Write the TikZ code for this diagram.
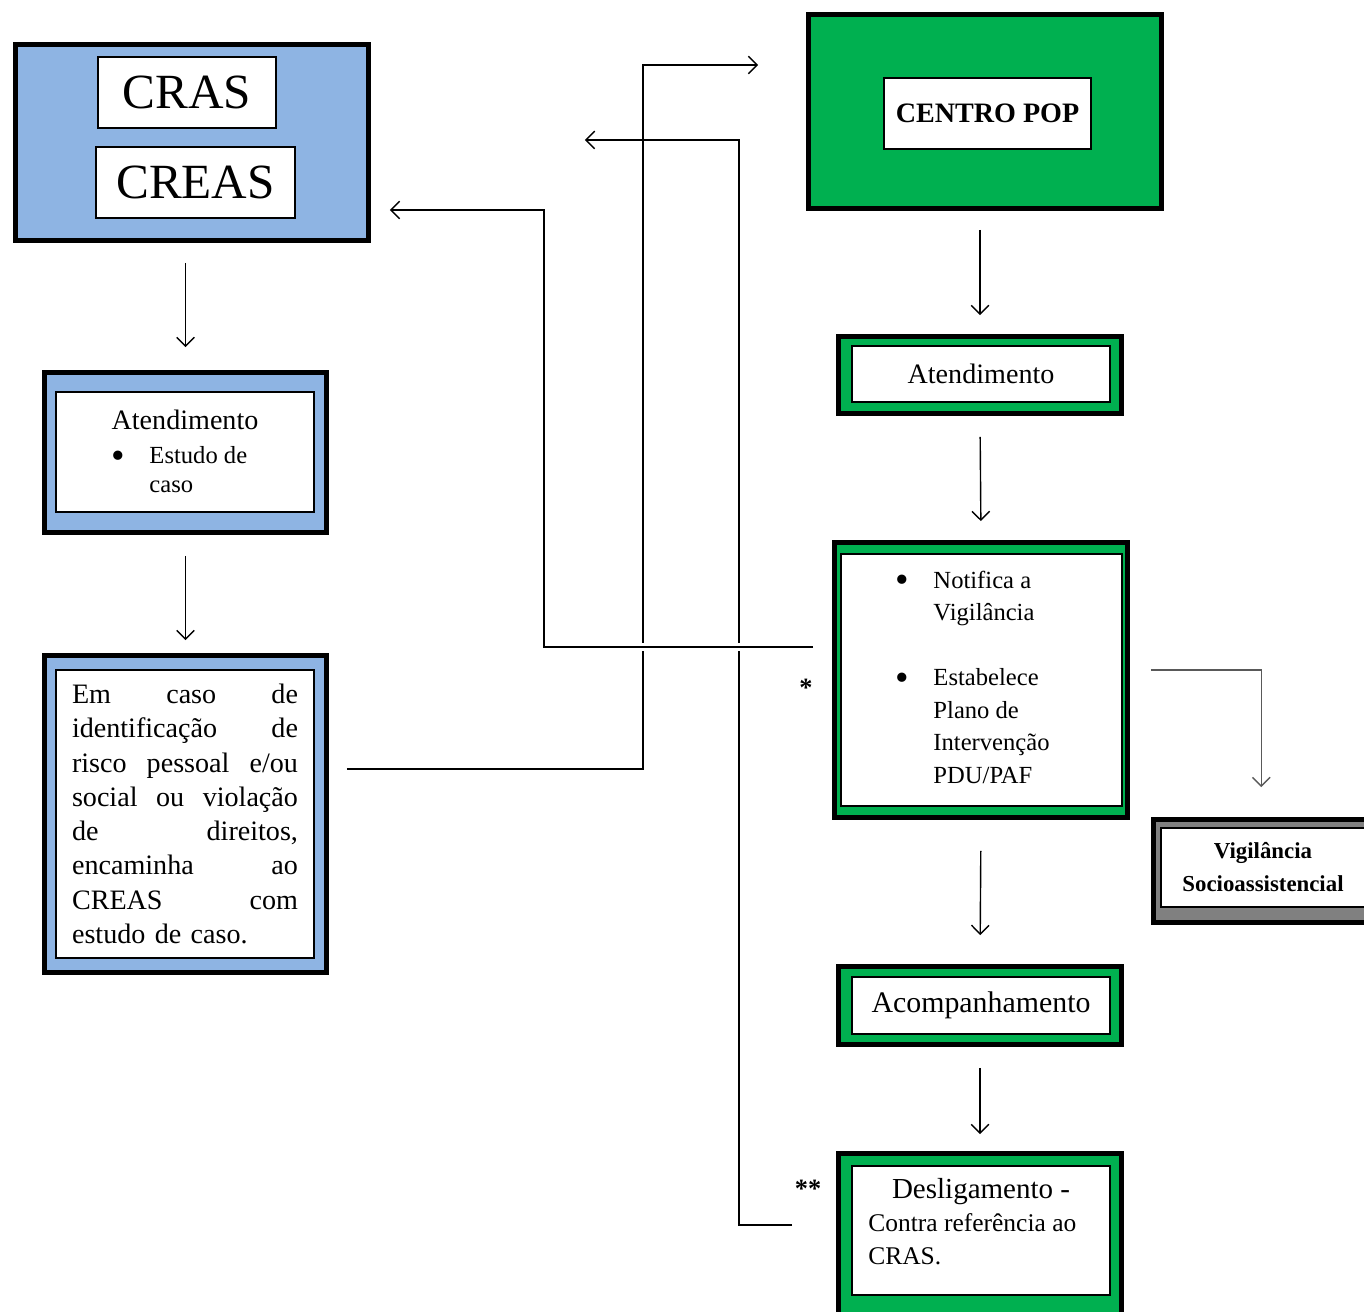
\documentclass[tikz,border=0pt]{standalone}
\usepackage{fontspec}
\setmainfont{Liberation Serif}
\usepackage{xcolor}
\usepackage{tikz}
\usetikzlibrary{arrows.meta, positioning, calc}
\definecolor{crasBlue}{RGB}{142,180,227}
\definecolor{popGreen}{RGB}{0,176,80}
\definecolor{vigGray}{RGB}{128,128,128}
\newcommand{\bigbullet}{\raisebox{-2.6pt}{\fontsize{22}{16}\selectfont\textbullet}}

\begin{document}
\begin{tikzpicture}[x=0.02cm, y=-0.02cm,
  outerbox/.style={rectangle, draw=black, line width=2.8pt, inner sep=0pt},
  innerbox/.style={rectangle, draw=black, line width=0.9pt, fill=white, inner sep=0pt},
  arrow/.style={-{Straight Barb[length=5pt,width=10pt]}, line width=0.8pt},
  bigtxt/.style={font=\fontsize{28}{32}\selectfont},
  midtxt/.style={font=\fontsize{16}{19.5}\selectfont},
  listtxt/.style={inner sep=0pt, anchor=north west}
]
\useasboundingbox (0,0) rectangle (1364,1311);

% CRAS / CREAS
\node[outerbox, fill=crasBlue, minimum width=7.06cm, minimum height=3.92cm] (crasbg) at (192,142.5) {};
\node[innerbox, bigtxt, minimum width=3.56cm, minimum height=1.42cm] (crasin) at (187,92.5) {CRAS};
\node[innerbox, bigtxt, minimum width=3.98cm, minimum height=1.42cm] (creasin) at (195.5,182.5) {CREAS};

% Atendimento (CRAS)
\node[outerbox, fill=crasBlue, minimum width=5.64cm, minimum height=3.2cm] (atend1bg) at (185.5,452.5) {};
\node[innerbox, minimum width=5.16cm, minimum height=2.4cm] (atend1in) at (185,452) {};
\node[midtxt] (atend1tit) at (185,420) {Atendimento};
\node[listtxt, font=\fontsize{14}{16.5}\selectfont] (atend1list) at (111,443) {%
  \begin{tabular}{@{}l@{\hspace{14pt}}l@{}}
  \bigbullet & Estudo de\\
   & caso
  \end{tabular}};

% Encaminhamento ao CREAS
\node[outerbox, fill=crasBlue, minimum width=5.64cm, minimum height=6.34cm] (emcasobg) at (185.5,814) {};
\node[innerbox, minimum width=5.16cm, minimum height=5.76cm, text width=4.52cm, align=left,
      font=\fontsize{16}{19.5}\selectfont\setlength{\parindent}{0pt}] (emcasoin) at (185,814) {%
  Em\hfill caso\hfill de\\
  identificação\hfill de\\
  risco\hfill pessoal\hfill e/ou\\
  social\hfill ou\hfill violação\\
  de\hfill direitos,\\
  encaminha\hfill ao\\
  CREAS\hfill com\\
  estudo de caso.};

% CENTRO POP
\node[outerbox, fill=popGreen, minimum width=7.06cm, minimum height=3.88cm] (popbg) at (985,111.5) {};
\node[innerbox, font=\fontsize{16}{19}\selectfont\bfseries, minimum width=4.14cm, minimum height=1.42cm] (popin) at (987.5,113.5) {CENTRO POP};

% Atendimento (Centro POP)
\node[outerbox, fill=popGreen, minimum width=5.66cm, minimum height=1.54cm] (atend2bg) at (980,375) {};
\node[innerbox, midtxt, minimum width=5.16cm, minimum height=1.12cm] (atend2in) at (981,374) {Atendimento};

% Notifica / Plano
\node[outerbox, fill=popGreen, minimum width=5.86cm, minimum height=5.5cm] (notifbg) at (981,680) {};
\node[innerbox, minimum width=5.62cm, minimum height=5.04cm] (notifin) at (981.5,680) {};
\node[listtxt, font=\fontsize{14}{18.5}\selectfont] (notiflist) at (895,565) {%
  \begin{tabular}{@{}l@{\hspace{14pt}}l@{}}
  \bigbullet & Notifica a\\
   & Vigilância\\
   & \\
  \bigbullet & Estabelece\\
   & Plano de\\
   & Intervenção\\
   & PDU/PAF
  \end{tabular}};
\node[font=\fontsize{15}{16}\selectfont\bfseries] (star1) at (806,688) {*};

% Vigilancia Socioassistencial
\node[outerbox, fill=vigGray, minimum width=4.63cm, minimum height=2.06cm] (vigilbg) at (1269.25,871) {};
\node[innerbox, minimum width=4.48cm, minimum height=1.58cm] (vigilin) at (1273,867.5) {};
\node[align=center, font=\fontsize{13}{19}\selectfont\bfseries] (vigiltxt) at (1263,867) {Vigilância\\Socioassistencial};

% Acompanhamento
\node[outerbox, fill=popGreen, minimum width=5.66cm, minimum height=1.56cm] (acompbg) at (980,1005.5) {};
\node[innerbox, font=\fontsize{17}{20}\selectfont, minimum width=5.16cm, minimum height=1.14cm] (acompin) at (981,1005.5) {Acompanhamento};

% Desligamento
\node[outerbox, fill=popGreen, minimum width=5.66cm, minimum height=3.43cm] (deslbg) at (980,1239.25) {};
\node[innerbox, minimum width=5.16cm, minimum height=2.58cm] (deslin) at (981,1230.5) {};
\node[font=\fontsize{16.5}{19}\selectfont] (desltit) at (981,1192) {Desligamento -};
\node[listtxt, align=left, font=\fontsize{14.5}{18.7}\selectfont] (desltxt) at (868,1213) {Contra referência ao\\CRAS.};
\node[font=\fontsize{15}{16}\selectfont\bfseries] (star2) at (808,1189) {**};

% vertical flow
\draw[arrow, shorten <=0.4cm, shorten >=0.46cm] (atend1bg.north |- crasbg.south) -- (atend1bg.north);
\draw[arrow, shorten <=0.42cm, shorten >=0.26cm] (atend1bg.south) -- (emcasobg.north);
\draw[arrow, shorten <=0.38cm, shorten >=0.38cm] (atend2bg.north |- popbg.south) -- (atend2bg.north);
\draw[arrow, shorten <=0.42cm, shorten >=0.38cm] (atend2bg.south) -- (notifbg.north);
\draw[arrow, shorten <=0.62cm, shorten >=0.58cm] (notifbg.south) -- (acompbg.north);
\draw[arrow, shorten <=0.42cm, shorten >=0.34cm] (acompbg.south) -- (deslbg.north);

% cross links
\draw[arrow] ($(emcasobg.east)+(18,-45)$) -- ++(296,0) |- ($(popbg.west)+(-48,-46.5)$);
\draw[arrow] ($(deslbg.west)+(-44,-14.25)$) -- ++(-53,0) |- ($(crasbg.east)+(214,-2.5)$);
\draw[arrow, preaction={draw=white, line width=4.5pt, -}] ($(notifbg.west)+(-19,-33)$) -- ++(-269,0) |- ($(crasbg.east)+(19,67.5)$);
\draw[arrow, draw=black!65] ($(notifbg.east)+(21,-10)$) -| ($(vigilbg.north)+(-8,-30)$);

\end{tikzpicture}
\end{document}
